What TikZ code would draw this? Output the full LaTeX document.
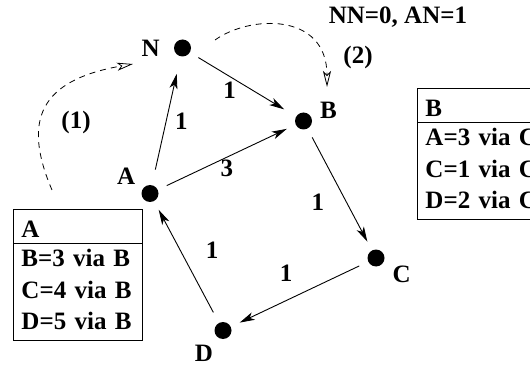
\documentclass[tikz,border=0pt]{standalone}
\usepackage{fontspec}
\setmainfont{Liberation Serif}
\usetikzlibrary{arrows.meta,positioning,shapes.multipart}
\newcommand\rtfont{\fontsize{25}{31.5}\selectfont\bfseries}

\begin{document}
\begin{tikzpicture}[x=1pt,y=-1pt,
    rtdot/.style={circle,fill=black,minimum size=17pt,inner sep=0pt,outer sep=0pt},
    rtname/.style={font=\rtfont,inner sep=0pt},
    rtweight/.style={font=\rtfont,inner sep=0pt},
    rtarrow/.style={-{Stealth[length=15pt,width=8pt,inset=4pt]},line width=0.9pt,
        shorten <=10pt,shorten >=10pt},
    rtdash/.style={-{Stealth[open,length=16pt,width=8pt,inset=4pt]},line width=0.8pt,
        dash pattern=on 6pt off 5pt},
    rttable/.style={rectangle split,rectangle split parts=2,draw,line width=0.9pt,
        text width=113pt,align=left,inner xsep=8pt,inner ysep=5.5pt,font=\rtfont}
]
\useasboundingbox (0,0) rectangle (530,366);
\clip (0,0) rectangle (530,366);
% routers
\node[rtdot] (n) at (182.5,48) {};
\node[rtdot] (b) at (303.5,121) {};
\node[rtdot] (a) at (150,193.5) {};
\node[rtdot] (c) at (376,258) {};
\node[rtdot] (d) at (223,330.5) {};
\node[rtname,left=14pt of n] (nname) {N};
\node[rtname,right=8pt of b,yshift=11pt] (bname) {B};
\node[rtname,left=6pt of a,yshift=17pt] (aname) {A};
\node[rtname,right=8pt of c,yshift=-16pt] (cname) {C};
\node[rtname,below=6pt of d,xshift=-19pt] (dname) {D};
% links
\draw[rtarrow,shorten <=16pt,shorten >=18pt] (a) -- node[rtweight,xshift=15pt] {1} (n);
\draw[rtarrow,shorten >=14pt] (n) -- node[rtweight,xshift=-13.5pt,yshift=-5.5pt] {1} (b);
\draw[rtarrow] (a) -- node[rtweight,yshift=-11.5pt] {3} (b);
\draw[rtarrow] (b) -- node[rtweight,xshift=-22pt,yshift=-13pt] {1} (c);
\draw[rtarrow] (c) -- node[rtweight,xshift=-13.5pt,yshift=21pt] {1} (d);
\draw[rtarrow,shorten <=12pt] (d) -- node[rtweight,xshift=25.5pt,yshift=11.5pt] {1} (a);
% announcements
\coordinate (s1) at (52,190);
\coordinate (e1) at (133,64);
\coordinate (s2) at (215,40);
\coordinate (e2) at (327,87);
\draw[rtdash] (s1) .. controls (22,120) and (40,80) .. (e1);
\draw[rtdash] (s2) .. controls (250,15) and (327,12) .. (e2);
\node[rtname] (step1) at (76,122) {(1)};
\node[rtname] (step2) at (358,57) {(2)};
\node[rtname] (counters) at (398,17) {NN=0, AN=1};
% routing tables
\node[rttable,anchor=north west] (atable) at (13,209)
    {\rule{0pt}{22pt}A\nodepart{two}B=3 via B\\C=4 via B\\D=5 via B\rule[-5pt]{0pt}{5pt}};
\node[rttable,anchor=north west] (btable) at (417,88)
    {\rule{0pt}{22pt}B\nodepart{two}A=3 via C\\C=1 via C\\D=2 via C\rule[-5pt]{0pt}{5pt}};
\end{tikzpicture}
\end{document}
